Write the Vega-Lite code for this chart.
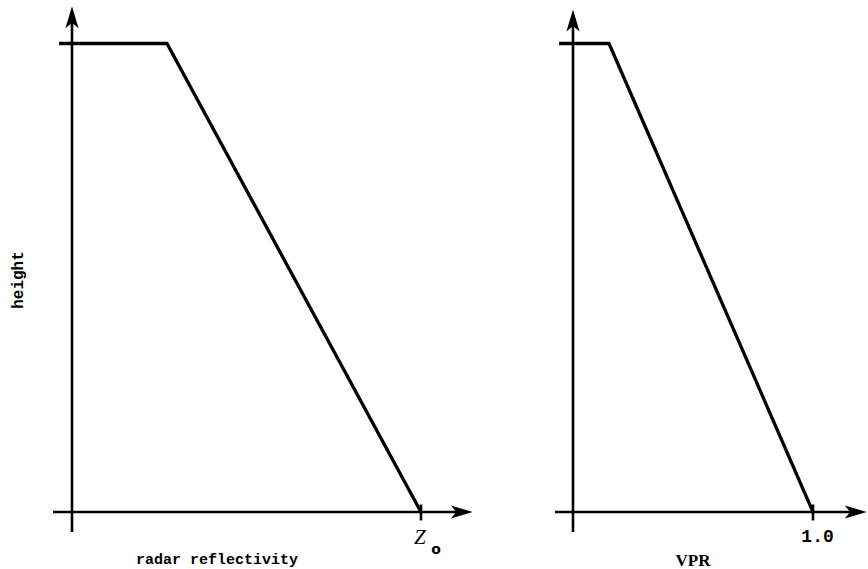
{
  "$schema": "https://vega.github.io/schema/vega-lite/v6.json",
  "padding": 0,
  "bounds": "flush",
  "spacing": 0,
  "background": "white",
  "config": {"view": {"stroke": null}},
  "datasets": {
    "refl_profile": [{"x": -0.037, "y": 1}, {"x": 0.272, "y": 1}, {"x": 1, "y": 0}],
    "refl_axes": [
      {"x": -0.0544, "x2": 1.11, "y": 0, "y2": 0},
      {"x": 0, "x2": 0, "y": -0.0427, "y2": 1.045},
      {"x": 1, "x2": 1, "y": 0.016, "y2": -0.018}
    ],
    "refl_arrows": [{"x": 1.117, "y": 0, "dir": "right"}, {"x": 0, "y": 1.056, "dir": "up"}],
    "refl_labels": [
      {"role": "title", "label": "radar reflectivity", "x": 0.4155, "y": -0.111},
      {"role": "ytitle", "label": "height", "x": -0.1418, "y": 0.4952},
      {"role": "sym", "label": "Z", "x": 0.997, "y": -0.0683},
      {"role": "sub", "label": "o", "x": 1.043, "y": -0.0907}
    ],
    "vpr_profile": [{"x": -0.058, "y": 1}, {"x": 0.15, "y": 1}, {"x": 1, "y": 0}],
    "vpr_axes": [
      {"x": -0.075, "x2": 1.172, "y": 0, "y2": 0},
      {"x": 0, "x2": 0, "y": -0.0427, "y2": 1.04},
      {"x": 1, "x2": 1, "y": 0.016, "y2": -0.018}
    ],
    "vpr_arrows": [{"x": 1.178, "y": 0, "dir": "right"}, {"x": 0, "y": 1.049, "dir": "up"}],
    "vpr_labels": [
      {"role": "tick", "label": "1.0", "x": 1.019, "y": -0.0634},
      {"role": "title", "label": "VPR", "x": 0.5, "y": -0.1153}
    ]
  },
  "hconcat": [
    {
      "width": 480,
      "height": 569,
      "encoding": {
        "x": {"field": "x", "type": "quantitative", "scale": {"domain": [-0.2063, 1.1691], "nice": false, "zero": false}, "axis": null},
        "y": {"field": "y", "type": "quantitative", "scale": {"domain": [-0.12166, 1.09285], "nice": false, "zero": false}, "axis": null}
      },
      "layer": [
        {"data": {"name": "refl_axes"}, "mark": {"type": "rule", "color": "black", "strokeWidth": 2.6}, "encoding": {"x2": {"field": "x2"}, "y2": {"field": "y2"}}},
        {"data": {"name": "refl_profile"}, "mark": {"type": "line", "color": "black", "strokeWidth": 3.3, "strokeJoin": "miter"}, "encoding": {}},
        {"data": {"name": "refl_arrows"}, "mark": {"type": "point", "filled": true, "color": "black", "opacity": 1, "size": 480, "strokeWidth": 0},
         "encoding": {"shape": {"field": "dir", "type": "nominal", "scale": {"domain": ["up", "right"], "range": ["M0,-1L0.6,1L0,0.5L-0.6,1Z", "M1,0L-1,0.6L-0.5,0L-1,-0.6Z"]}, "legend": null}}},
        {"data": {"name": "refl_labels"}, "transform": [{"filter": "datum.role === 'title'"}], "mark": {"type": "text", "font": "Liberation Mono", "fontWeight": "bold", "fontSize": 15, "align": "center", "baseline": "alphabetic", "color": "black"}, "encoding": {"text": {"field": "label"}}},
        {"data": {"name": "refl_labels"}, "transform": [{"filter": "datum.role === 'ytitle'"}], "mark": {"type": "text", "font": "Liberation Mono", "fontWeight": "bold", "fontSize": 16, "align": "center", "baseline": "alphabetic", "angle": 270, "color": "black"}, "encoding": {"text": {"field": "label"}}},
        {"data": {"name": "refl_labels"}, "transform": [{"filter": "datum.role === 'sym'"}], "mark": {"type": "text", "font": "Liberation Serif", "fontStyle": "italic", "fontSize": 21, "align": "center", "baseline": "alphabetic", "color": "black"}, "encoding": {"text": {"field": "label"}}},
        {"data": {"name": "refl_labels"}, "transform": [{"filter": "datum.role === 'sub'"}], "mark": {"type": "text", "font": "DejaVu Sans", "fontWeight": "bold", "fontSize": 14, "align": "center", "baseline": "alphabetic", "color": "black"}, "encoding": {"text": {"field": "label"}}}
      ]
    },
    {
      "width": 388,
      "height": 569,
      "encoding": {
        "x": {"field": "x", "type": "quantitative", "scale": {"domain": [-0.3875, 1.2292], "nice": false, "zero": false}, "axis": null},
        "y": {"field": "y", "type": "quantitative", "scale": {"domain": [-0.12166, 1.09285], "nice": false, "zero": false}, "axis": null}
      },
      "layer": [
        {"data": {"name": "vpr_axes"}, "mark": {"type": "rule", "color": "black", "strokeWidth": 2.6}, "encoding": {"x2": {"field": "x2"}, "y2": {"field": "y2"}}},
        {"data": {"name": "vpr_profile"}, "mark": {"type": "line", "color": "black", "strokeWidth": 3.3, "strokeJoin": "miter"}, "encoding": {}},
        {"data": {"name": "vpr_arrows"}, "mark": {"type": "point", "filled": true, "color": "black", "opacity": 1, "size": 480, "strokeWidth": 0},
         "encoding": {"shape": {"field": "dir", "type": "nominal", "scale": {"domain": ["up", "right"], "range": ["M0,-1L0.6,1L0,0.5L-0.6,1Z", "M1,0L-1,0.6L-0.5,0L-1,-0.6Z"]}, "legend": null}}},
        {"data": {"name": "vpr_labels"}, "transform": [{"filter": "datum.role === 'tick'"}], "mark": {"type": "text", "font": "Liberation Mono", "fontWeight": "bold", "fontSize": 18, "align": "center", "baseline": "alphabetic", "color": "black"}, "encoding": {"text": {"field": "label"}}},
        {"data": {"name": "vpr_labels"}, "transform": [{"filter": "datum.role === 'title'"}], "mark": {"type": "text", "font": "Liberation Serif", "fontWeight": "bold", "fontSize": 17, "align": "center", "baseline": "alphabetic", "color": "black"}, "encoding": {"text": {"field": "label"}}}
      ]
    }
  ]
}
